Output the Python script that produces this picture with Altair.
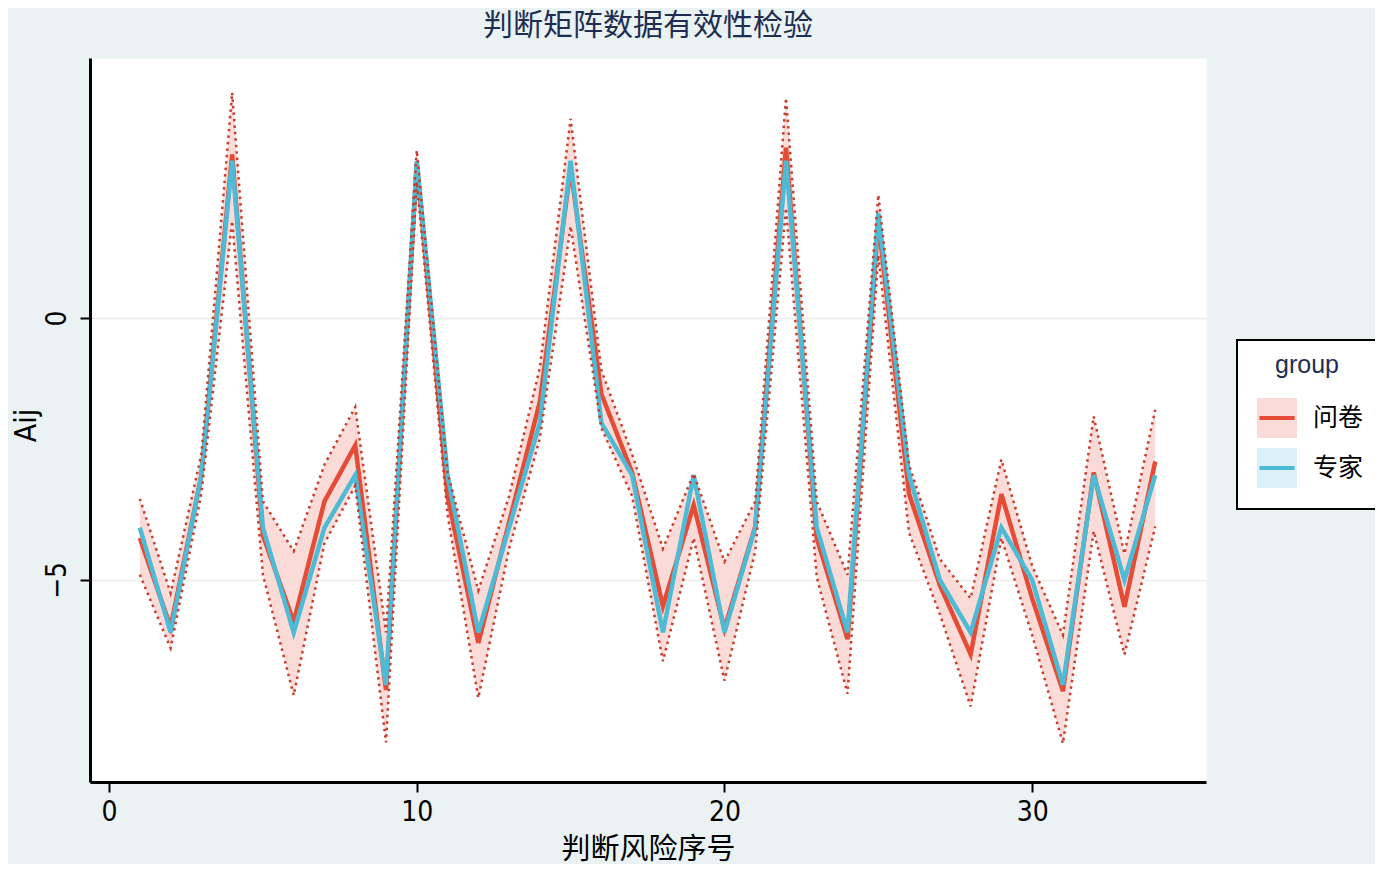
import altair as alt
import pandas as pd

# ---------------- data ----------------
x_idx = list(range(1, 35))
groups = ["问卷", "专家"]

survey_mean = [-4.2, -5.9, -3.0, 3.12, -4.15, -5.8, -3.5, -2.43, -7.1, 2.95,
               -3.4, -6.2, -3.9, -1.6, 2.85, -1.45, -2.95, -5.5, -3.57, -5.93,
               -3.98, 3.25, -4.2, -6.13, 1.85, -3.36, -5.1, -6.42, -3.36, -5.35,
               -7.12, -2.95, -5.51, -2.74]
survey_upper = [-3.45, -5.25, -2.6, 4.3, -3.5, -4.45, -2.8, -1.7, -6.0, 3.2,
                -2.95, -5.2, -3.4, -0.95, 3.8, -1.0, -2.6, -4.4, -2.97, -4.65,
                -3.5, 4.2, -3.5, -4.9, 2.35, -2.8, -4.6, -5.35, -2.7, -4.73,
                -6.05, -1.88, -4.5, -1.75]
survey_lower = [-4.9, -6.3, -3.35, 1.85, -4.9, -7.2, -4.3, -3.2, -8.1, 2.6,
                -3.75, -7.25, -4.4, -2.3, 1.75, -2.1, -3.4, -6.55, -4.2, -6.92,
                -4.45, 2.1, -4.95, -7.17, 1.2, -4.1, -5.65, -7.41, -4.2, -6.05,
                -8.12, -4.07, -6.42, -3.98]
expert = [-4, -6, -3, 3, -4, -6, -4, -3, -7, 3,
          -3, -6, -4, -2, 3, -2, -3, -6, -3, -6,
          -4, 3, -4, -6, 2, -3, -5, -6, -4, -5,
          -7, -3, -5, -3]

x_ticks = [0, 10, 20, 30]
y_ticks = [-5, 0]

line_colors = ["#E64B35", "#4DBBD5"]
band_colors = ["#FADBD7", "#DBF1F7"]

# ---------------- tables ----------------
band_rows = []
for i, xv in enumerate(x_idx):
    band_rows.append({"x": xv, "lo": survey_lower[i], "hi": survey_upper[i], "group": groups[0]})
for i, xv in enumerate(x_idx):
    band_rows.append({"x": xv, "lo": expert[i], "hi": expert[i], "group": groups[1]})
band_df = pd.DataFrame(band_rows)

line_rows = []
for i, xv in enumerate(x_idx):
    line_rows.append({"x": xv, "y": survey_mean[i], "series": groups[0]})
for i, xv in enumerate(x_idx):
    line_rows.append({"x": xv, "y": expert[i], "series": groups[1]})
line_df = pd.DataFrame(line_rows)

bound_rows = []
for i, xv in enumerate(x_idx):
    bound_rows.append({"x": xv, "y": survey_upper[i], "which": "upper"})
    bound_rows.append({"x": xv, "y": survey_lower[i], "which": "lower"})
bound_df = pd.DataFrame(bound_rows)

# ---------------- styling ----------------
NARROW = "Liberation Sans Narrow, DejaVu Sans Condensed, Liberation Sans, sans-serif"
CJK = "Noto Sans CJK SC, sans-serif"
NAVY = "#1f2d52"

xscale = alt.Scale(domain=[-0.62, 35.65], nice=False, zero=False)
yscale = alt.Scale(domain=[-8.855, 4.962], nice=False, zero=False)

x_axis = alt.Axis(
    values=x_ticks, title="判断风险序号", grid=False,
    domainColor="black", domainWidth=3, tickColor="black", tickWidth=2, tickSize=10,
    labelFont=NARROW, labelFontSize=28, labelColor="black", labelPadding=6, labelFlush=False,
    titleFont=CJK, titleFontSize=29, titleFontWeight="normal", titleColor="black",
    titleX=558, titleY=67, titleAlign="center", titleBaseline="middle",
)
y_axis = alt.Axis(
    values=y_ticks, title="Aij", grid=True, gridColor="#ECECEC", gridWidth=1.5,
    domainColor="black", domainWidth=3, tickColor="black", tickWidth=2, tickSize=10,
    labelFont=NARROW, labelFontSize=28, labelColor="black", labelPadding=9, labelAngle=270,
    labelFlush=False,
    titleFont=NARROW, titleFontSize=30, titleFontWeight="normal", titleColor="black",
    titleX=-64, titleY=367, titleAngle=270, titleAlign="center", titleBaseline="middle",
)

LEG_X, LEG_Y = 1147, 282
common_leg = dict(
    title="group", orient="none", legendX=LEG_X, legendY=LEG_Y,
    titleFont="Liberation Sans, Arial, sans-serif", titleFontSize=25, titleFontWeight="normal",
    titleAnchor="middle", titlePadding=18,
    labelFont=CJK, labelFontSize=25, labelOffset=14,
    symbolSize=1600, symbolStrokeWidth=4, symbolOffset=5,
    padding=13, rowPadding=-16,
)
legend_fill = alt.Legend(
    titleColor=NAVY, labelColor="black",
    symbolType="square", symbolOpacity=1, symbolStrokeColor="transparent",
    fillColor="white", strokeColor="black",
    **common_leg,
)
legend_stroke = alt.Legend(
    titleColor="transparent", labelColor="transparent",
    symbolType="M-1,-1L-1,-1M1,1L1,1M-0.88,0L0.88,0", symbolFillColor="transparent",
    **common_leg,
)

# ---------------- layers ----------------
area = alt.Chart(band_df).mark_area(opacity=1).encode(
    x=alt.X("x:Q", scale=xscale, axis=x_axis),
    y=alt.Y("lo:Q", scale=yscale, axis=y_axis),
    y2="hi:Q",
    fill=alt.Fill("group:N", scale=alt.Scale(domain=groups, range=band_colors), legend=legend_fill),
)

stroke_enc = alt.Stroke("series:N", sort=groups, scale=alt.Scale(range=line_colors), legend=legend_stroke)

red_line = alt.Chart(line_df).transform_filter(
    alt.datum.series == groups[0]
).mark_line(strokeWidth=4.5).encode(
    x=alt.X("x:Q", scale=xscale), y=alt.Y("y:Q", scale=yscale), stroke=stroke_enc,
)
blue_line = alt.Chart(line_df).transform_filter(
    alt.datum.series == groups[1]
).mark_line(strokeWidth=4.5).encode(
    x=alt.X("x:Q", scale=xscale), y=alt.Y("y:Q", scale=yscale), stroke=stroke_enc,
)

bounds = alt.Chart(bound_df).mark_line(strokeWidth=2.5, strokeDash=[2.5, 4], color="#C93C2A").encode(
    x=alt.X("x:Q", scale=xscale), y=alt.Y("y:Q", scale=yscale), detail="which:N",
)

chart = alt.layer(area, red_line, blue_line, bounds).properties(
    width=1116, height=724,
    title=alt.TitleParams(
        "判断矩阵数据有效性检验", font=CJK, fontSize=30, fontWeight="normal",
        color=NAVY, anchor="middle", offset=17,
    ),
    autosize=alt.AutoSizeParams(type="none"),
    padding={"left": 82, "top": 50, "right": 169, "bottom": 82},
).configure(
    background="#EAF2F3",
).configure_view(
    fill="white", stroke="transparent",
).configure_legend(
    strokeWidth=2,
)

chart.save("out.html", embed_options={"renderer": "svg", "actions": False})
